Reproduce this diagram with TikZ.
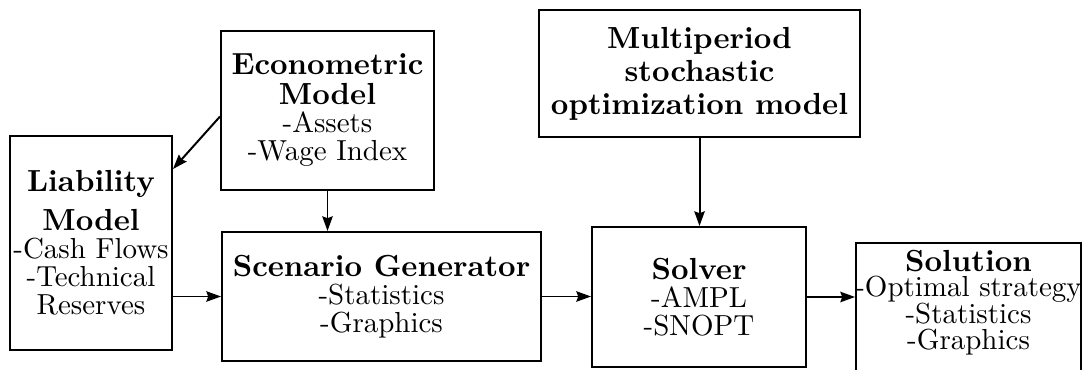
\documentclass[tikz,border=0pt]{standalone}
\usetikzlibrary{arrows.meta,calc}

% regular item lines under the bold titles
\newcommand{\rtxt}[1]{{\mdseries\fontsize{9.5}{9.2}\selectfont #1}}

\tikzset{
  box/.style 2 args={draw, line width=0.65pt, inner sep=0pt, align=center,
              minimum width=#1*0.3279pt, minimum height=#2*0.3279pt,
              font=\bfseries\fontsize{10}{9.2}\selectfont},
  lbl/.style={inner sep=0pt, align=center,
              font=\bfseries\fontsize{10}{8.7}\selectfont},
  arr/.style={line width=0.65pt, -{Stealth[length=4.8pt,width=3.4pt,inset=0.6pt]}},
}

\begin{document}
\begin{tikzpicture}[x=0.3279pt, y=-0.3279pt]
\useasboundingbox (0,0) rectangle (1083,369);

\node[box={162}{214}] (liab) at (91,243)
  {Liability\\[3.5pt]Model\\\rtxt{-Cash Flows}\\\rtxt{-Technical}\\\rtxt{Reserves}};

\node[box={213}{159}] (econ) at (327.5,110.5)
  {Econometric\\[0.6pt]Model\\\rtxt{-Assets}\\\rtxt{-Wage Index}};

\node[box={319}{129}] (scen) at (381.5,296.5)
  {Scenario Generator\\\rtxt{-Statistics}\\\rtxt{-Graphics}};

\node[box={321}{127}] (multi) at (699.5,73.5)
  {Multiperiod\\[1.6pt]stochastic\\[1.6pt]optimization model};

\node[box={214}{140}] (solv) at (699,297)
  {Solver\\\rtxt{-AMPL}\\\rtxt{-SNOPT}};

\node[box={225}{140}] (sol) at (968.5,313) {};
\node[lbl] (solt) at (968.5,303)
  {Solution\\[-0.5pt]\rtxt{-Optimal strategy}\\\rtxt{-Statistics}\\\rtxt{-Graphics}};

% connectors
\draw[arr] ($(econ.west)+(0,6)$) -- ($(liab.north east)+(0,34)$);
\draw[arr] (econ.south) -- (econ.south |- scen.north);
\draw[arr] (liab.east |- scen.west) -- (scen.west);
\draw[arr] (scen.east) -- (scen.east -| solv.west);
\draw[arr] (multi.south) -- (multi.south |- solv.north);
\draw[arr] (solv.east) -- (solv.east -| sol.west);
\end{tikzpicture}
\end{document}
